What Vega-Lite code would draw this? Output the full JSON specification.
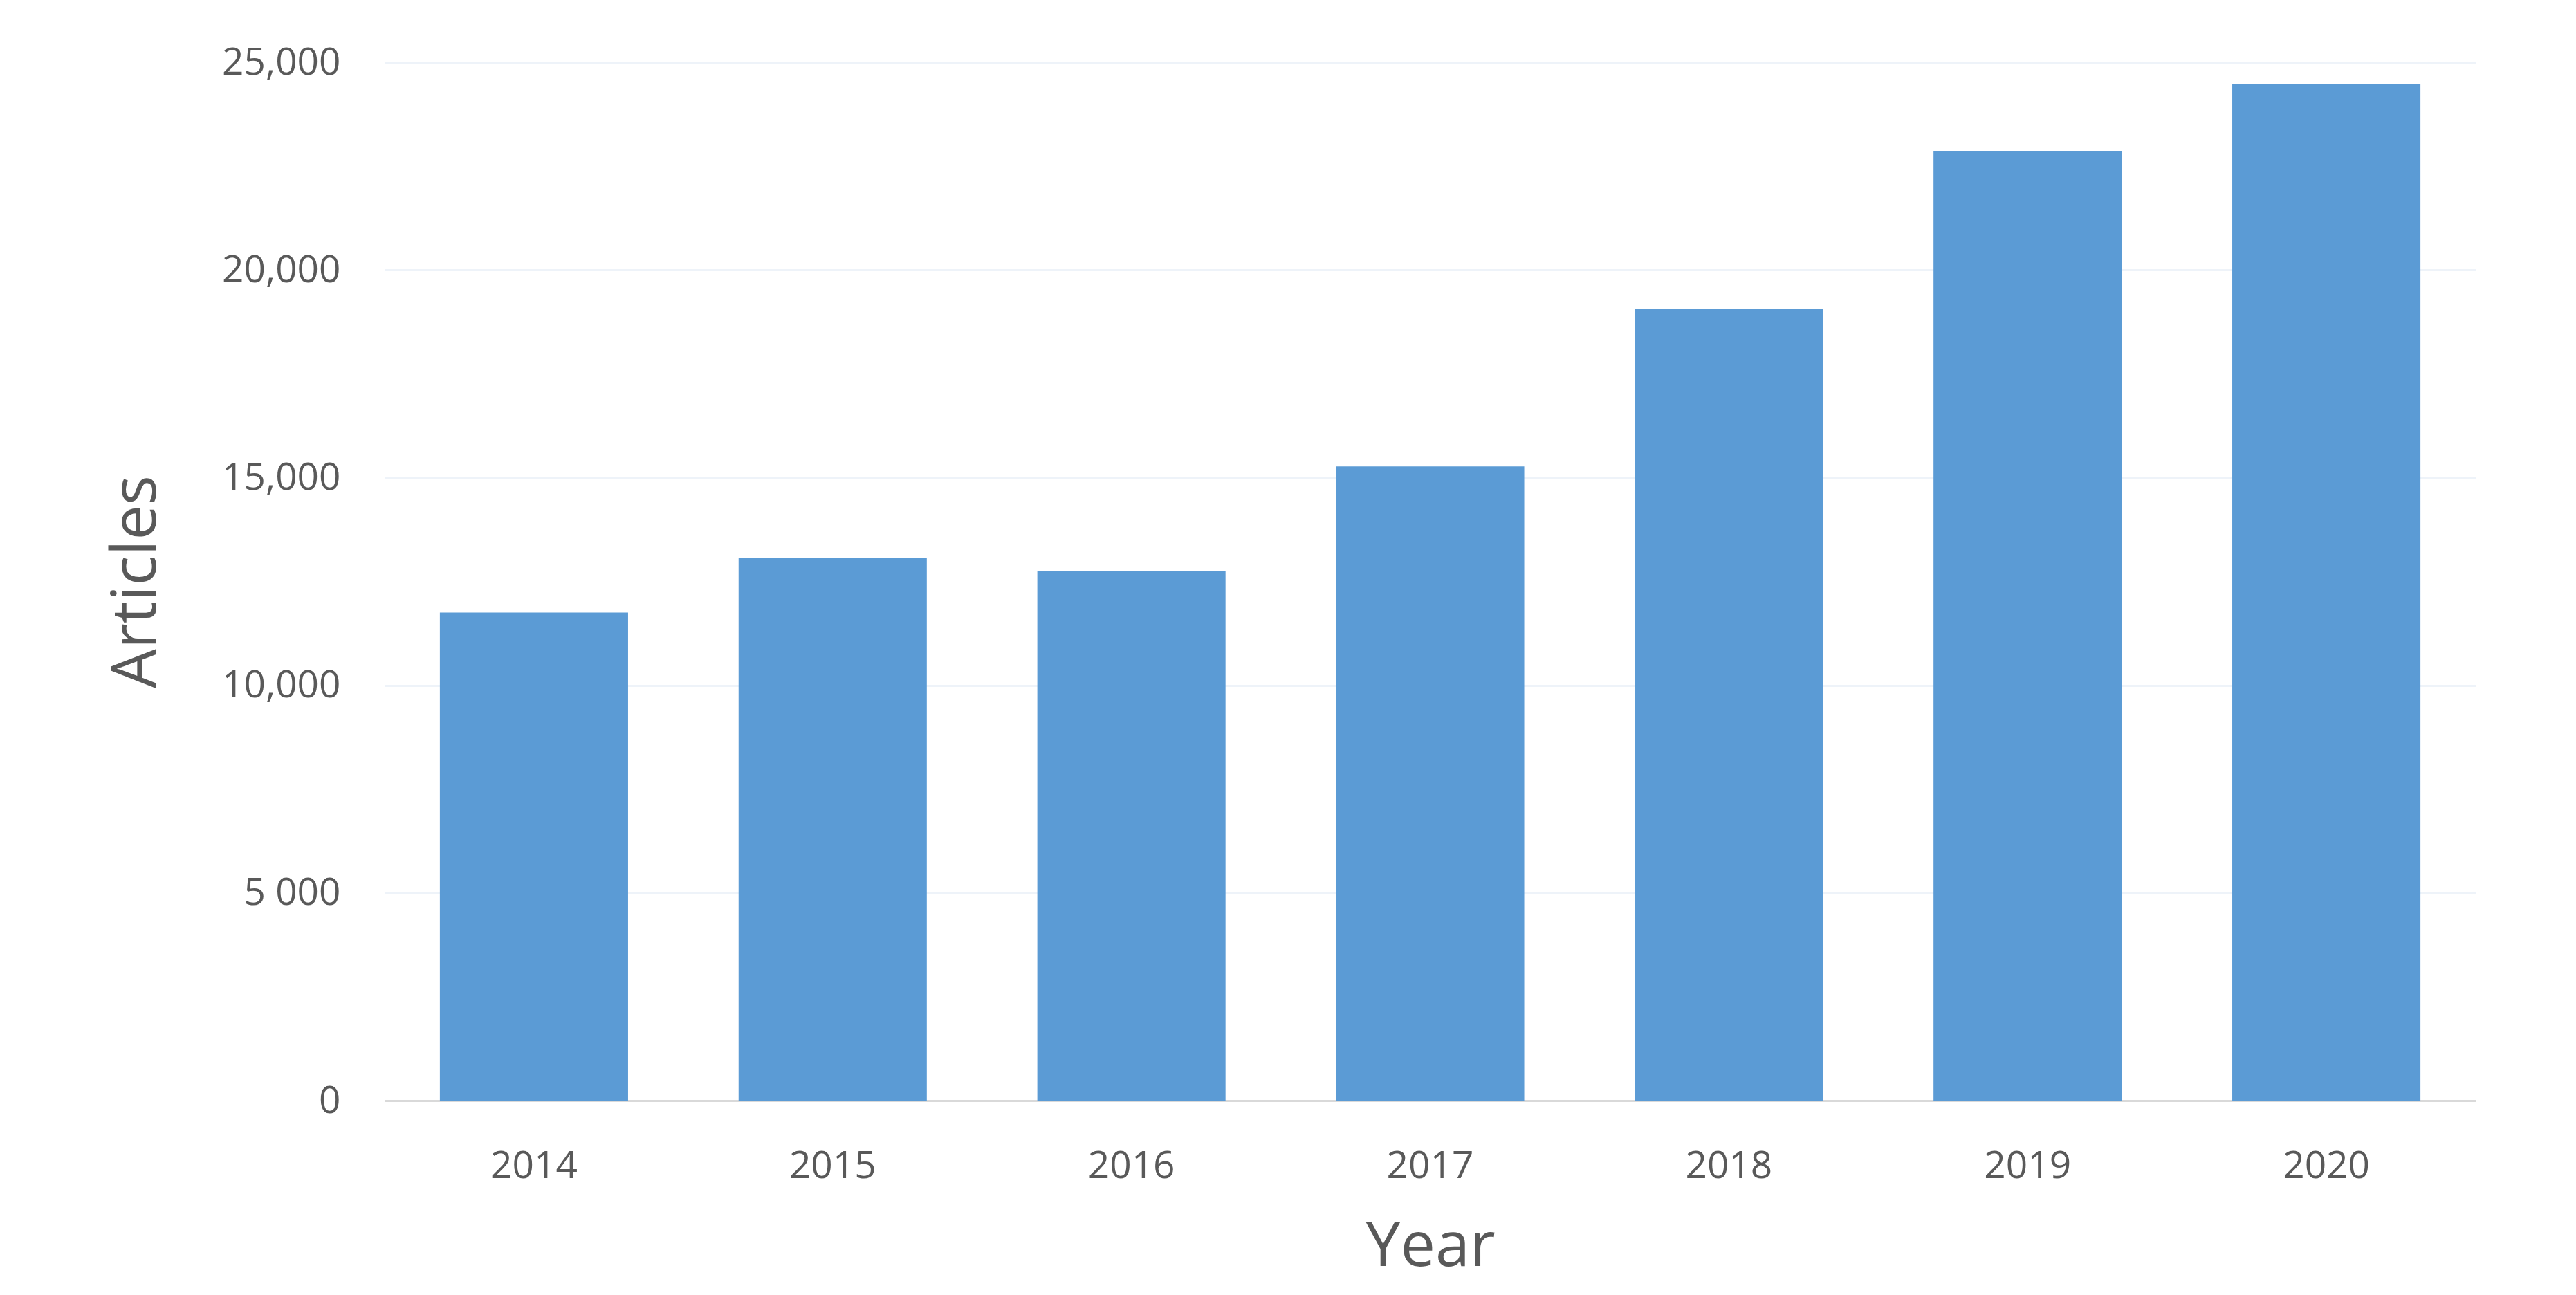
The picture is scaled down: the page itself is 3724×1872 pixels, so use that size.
{
  "$schema": "https://vega.github.io/schema/vega-lite/v6.json",
  "autosize": {"type": "none"},
  "width": 3023,
  "height": 1501,
  "padding": {"left": 556, "top": 90, "right": 145, "bottom": 281},
  "background": "white",
  "data": {
    "values": [
      {"Year": "2014", "Articles": 11750},
      {"Year": "2015", "Articles": 13070},
      {"Year": "2016", "Articles": 12760},
      {"Year": "2017", "Articles": 15270},
      {"Year": "2018", "Articles": 19070},
      {"Year": "2019", "Articles": 22870},
      {"Year": "2020", "Articles": 24470}
    ]
  },
  "config": {
    "view": {"stroke": null},
    "font": "Open Sans",
    "axis": {
      "labelFont": "Open Sans",
      "titleFont": "Open Sans",
      "labelColor": "#595959",
      "titleColor": "#595959",
      "labelFontSize": 55,
      "titleFontSize": 90,
      "titleFontWeight": "normal",
      "ticks": false
    }
  },
  "mark": {"type": "bar", "color": "#5B9BD5"},
  "encoding": {
    "x": {
      "field": "Year",
      "type": "ordinal",
      "scale": {"paddingInner": 0.37, "paddingOuter": 0.185},
      "axis": {
        "title": "Year",
        "labelAngle": 0,
        "labelPadding": 68,
        "titlePadding": 45,
        "domainColor": "#D9D9D9",
        "domainWidth": 3,
        "grid": false
      }
    },
    "y": {
      "field": "Articles",
      "type": "quantitative",
      "scale": {"domain": [0, 25000], "nice": false},
      "axis": {
        "title": "Articles",
        "values": [0, 5000, 10000, 15000, 20000, 25000],
        "labelExpr": "datum.value == 5000 ? '5 000' : format(datum.value, ',')",
        "labelPadding": 64,
        "titlePadding": 113,
        "domain": false,
        "grid": true,
        "gridColor": "#EEF3F9",
        "gridWidth": 3
      }
    }
  }
}
